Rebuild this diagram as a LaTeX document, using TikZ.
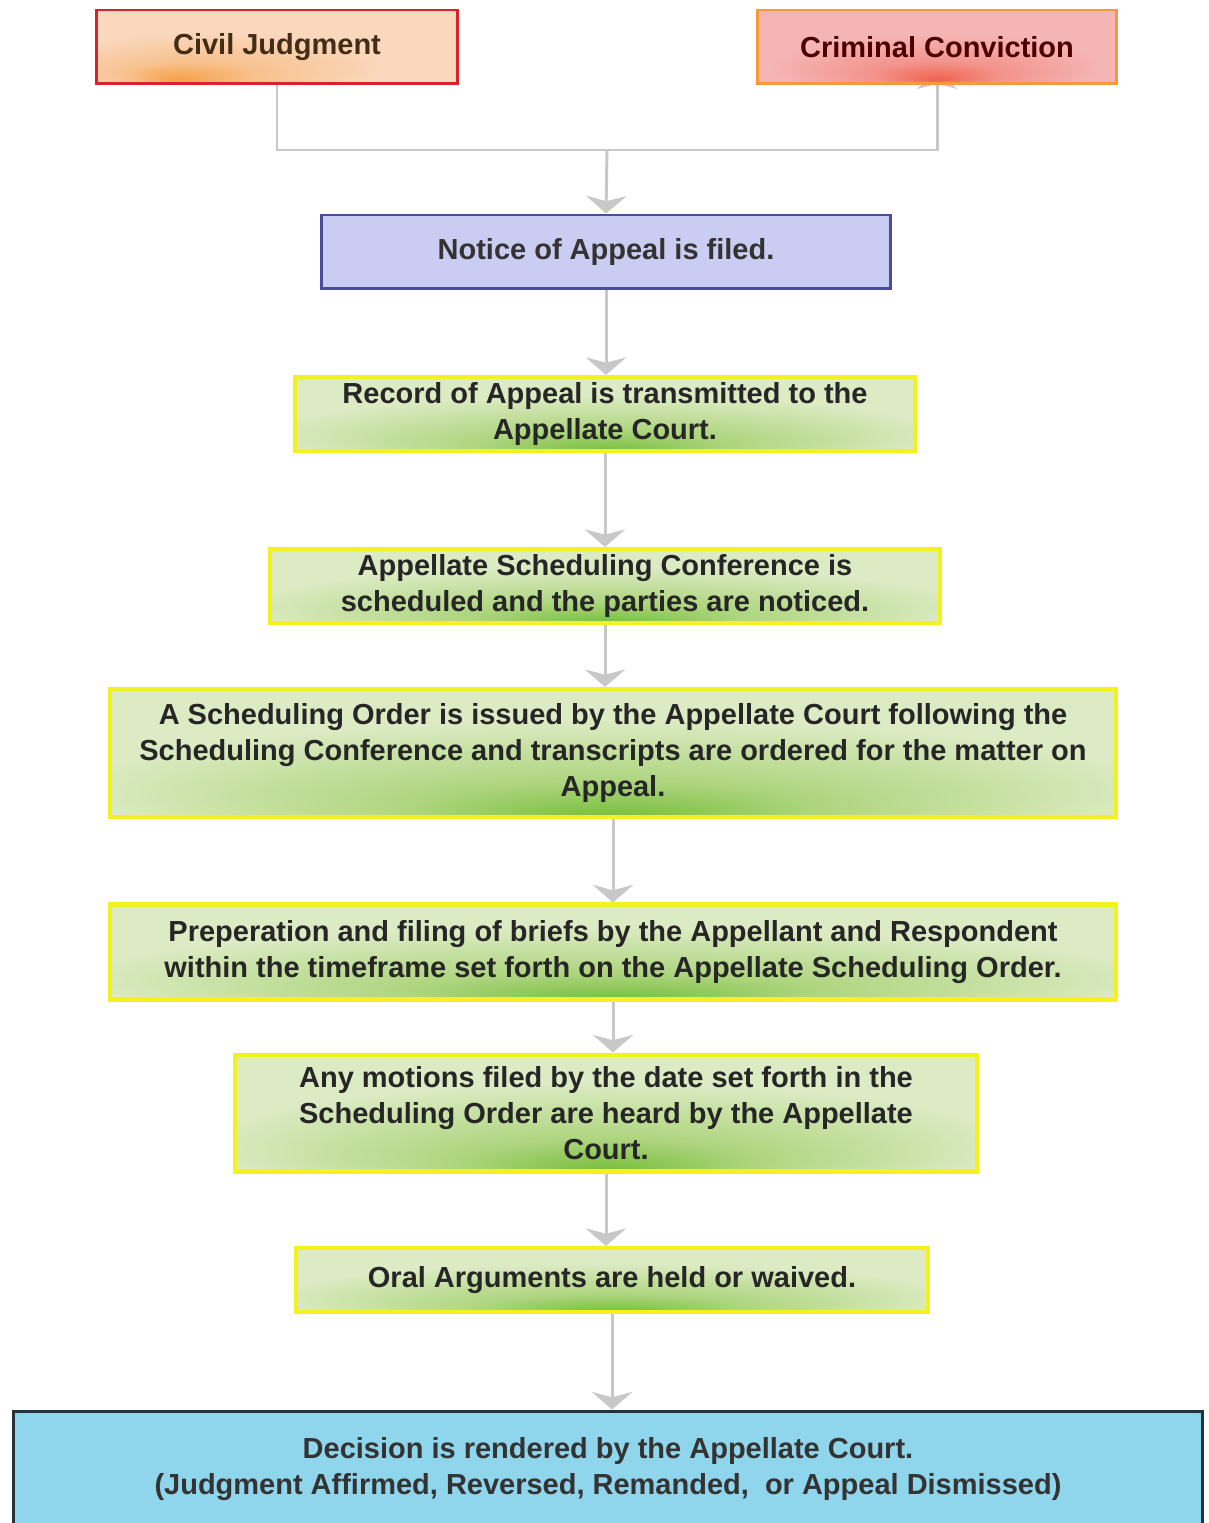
\documentclass[tikz,border=0pt]{standalone}
\usepackage{fontspec}
\setmainfont{Liberation Sans}
\usetikzlibrary{arrows.meta,backgrounds}

\definecolor{palegreen}{HTML}{DDEBC4}
\definecolor{midgreen}{HTML}{AED57F}
\definecolor{glowgreen}{HTML}{78BE3C}
\definecolor{stepyellow}{HTML}{F3F21E}
\definecolor{peach}{HTML}{FAD8BE}
\definecolor{gloworange}{HTML}{F5A047}
\definecolor{pinkish}{HTML}{F5B5B5}
\definecolor{glowred}{HTML}{F0634F}
\definecolor{civilred}{HTML}{D8232F}
\definecolor{crimorange}{HTML}{F39A3B}
\definecolor{lavender}{HTML}{CBCCF2}
\definecolor{noticeblue}{HTML}{4C4C9C}
\definecolor{skyfill}{HTML}{8FD5EB}
\definecolor{darkedge}{HTML}{27333A}
\definecolor{linegray}{HTML}{C8C8C8}

\pgfdeclareradialshading{greenglow}{\pgfpoint{0bp}{-25bp}}{color(0bp)=(glowgreen); color(10bp)=(midgreen); color(27bp)=(palegreen); color(60bp)=(palegreen)}
\pgfdeclareradialshading{civilglow}{\pgfpoint{-14bp}{-22bp}}{color(0bp)=(gloworange); color(9bp)=(peach!60!gloworange); color(24bp)=(peach); color(60bp)=(peach)}
\pgfdeclareradialshading{crimglow}{\pgfpoint{0bp}{-22bp}}{color(0bp)=(glowred); color(9bp)=(pinkish!60!glowred); color(23bp)=(pinkish); color(60bp)=(pinkish)}

\begin{document}
\begin{tikzpicture}[x=0.02cm,y=-0.02cm,
  font=\fontsize{16.5}{20.7}\selectfont\bfseries,
  flow/.style={-{Stealth[width=23pt,length=10pt,inset=3pt]},draw=linegray,line width=1.7pt},
  link/.style={draw=linegray,line width=1.7pt},
  stepbox/.style={draw=stepyellow,line width=2.3pt,shade,shading=greenglow,
    align=center,inner sep=0pt,text=black!85,minimum height=1.48cm}]
\useasboundingbox (0,0) rectangle (1208,1523);
% the two ways into an appeal
\node[draw=civilred,line width=1.7pt,shade,shading=civilglow,minimum width=7.22cm,
  minimum height=1.48cm,text=brown!35!black] (civil) at (277,47) {Civil Judgment};
\node[draw=crimorange,line width=1.7pt,shade,shading=crimglow,minimum width=7.2cm,
  minimum height=1.48cm,text=red!30!black] (criminal) at (937,47) {Criminal Conviction};
% notice
\node[draw=noticeblue,fill=lavender,line width=1.7pt,minimum width=11.4cm,
  minimum height=1.48cm,text=black!80] (notice) at (606,252) {Notice of Appeal is filed.};
% the steps
\node[stepbox,minimum width=12.42cm] (record) at (605,414)
  {Record of Appeal is transmitted to the\\Appellate Court.};
\node[stepbox,minimum width=13.42cm] (conf) at (605,586)
  {Appellate Scheduling Conference is\\scheduled and the parties are noticed.};
\node[stepbox,minimum width=20.12cm,minimum height=2.56cm] (order) at (613,753)
  {A Scheduling Order is issued by the Appellate Court following the\\Scheduling Conference and transcripts are ordered for the matter on\\Appeal.};
\node[stepbox,minimum width=20.12cm,minimum height=1.9cm] (briefs) at (613,952)
  {Preperation and filing of briefs by the Appellant and Respondent\\within the timeframe set forth on the Appellate Scheduling Order.};
\node[stepbox,minimum width=14.86cm,minimum height=2.34cm] (motions) at (606,1113)
  {Any motions filed by the date set forth in the\\Scheduling Order are heard by the Appellate\\Court.};
\node[stepbox,minimum width=12.64cm,minimum height=1.28cm] (oral) at (612,1280)
  {Oral Arguments are held or waived.};
% decision
\node[draw=darkedge,fill=skyfill,line width=1.7pt,minimum width=23.8cm,minimum height=2.32cm,
  align=center,text=black!80] (decision) at (608,1469)
  {Decision is rendered by the Appellate Court.\\(Judgment Affirmed, Reversed, Remanded,\ \ or Appeal Dismissed)};
% connectors
\coordinate (join) at (607,150);
\begin{pgfonlayer}{background}
\draw[link] (civil.south) |- (join);
\draw[flow,shorten >=-8pt] (join) -| (criminal.south);
\end{pgfonlayer}
\draw[flow] (join) -- (notice.north);
\draw[flow] (notice.south) -- (notice.south |- record.north);
\draw[flow] (record.south) -- (record.south |- conf.north);
\draw[flow] (conf.south) -- (conf.south |- order.north);
\draw[flow] (order.south) -- (order.south |- briefs.north);
\draw[flow] (briefs.south) -- (briefs.south |- motions.north);
\draw[flow] (motions.south) -- (motions.south |- oral.north);
\draw[flow] (oral.south) -- (oral.south |- decision.north);
\end{tikzpicture}
\end{document}
